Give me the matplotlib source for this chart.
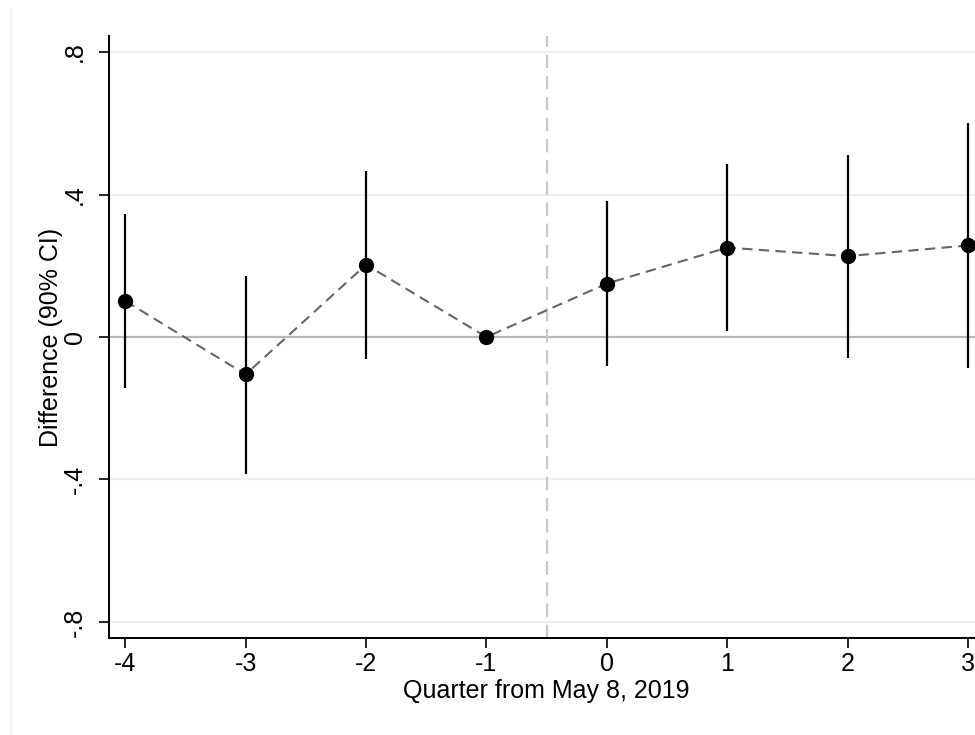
import matplotlib
matplotlib.use("Agg")
import matplotlib.pyplot as plt
from matplotlib.lines import Line2D

quarters = [-4, -3, -2, -1, 0, 1, 2, 3]
estimates = [0.101, -0.105, 0.203, 0.0, 0.150, 0.251, 0.227, 0.257]
ci_low = [-0.142, -0.384, -0.061, 0.0, -0.082, 0.017, -0.058, -0.086]
ci_high = [0.344, 0.171, 0.467, 0.0, 0.383, 0.486, 0.510, 0.601]
yticks = [-0.8, -0.4, 0, 0.4, 0.8]
ytick_labels = ["-.8", "-.4", "0", ".4", ".8"]
xticks = [-4, -3, -2, -1, 0, 1, 2, 3]

plt.rcParams['font.family'] = ['Liberation Sans', 'DejaVu Sans']

fig = plt.figure(figsize=(9.75, 7.35), dpi=100)
ax = fig.add_axes([109/975, 1 - 638/735, 875.3/975, (638-36)/735])

# outer faint frame line
fig.add_artist(Line2D([11/975, 11/975], [0, 1 - 10/735], transform=fig.transFigure,
                      color='#eef2f3', lw=1.2))

# gridlines
for y in [-0.8, -0.4, 0.4, 0.8]:
    ax.axhline(y, color='#eaf0f2', lw=1.6, zorder=0)
ax.axhline(0, color='#b8b8b8', lw=1.6, zorder=1)
ax.axvline(-0.5, color='#c8c8c8', lw=1.6, dashes=(6, 3.5), zorder=1)

# CIs
for q, lo, hi in zip(quarters, ci_low, ci_high):
    if hi != lo:
        ax.plot([q, q], [lo, hi], color='black', lw=1.6, zorder=3, solid_capstyle='butt')

ax.plot(quarters, estimates, color='#666666', lw=1.5, dashes=(5, 3), zorder=2)
ax.plot(quarters, estimates, 'o', color='black', markersize=10, zorder=4)

ax.set_xlim(-4.135, 3.135)
ax.set_ylim(-0.845, 0.845)
ax.set_xticks(xticks)
ax.set_xticklabels([str(x) for x in xticks])
ax.set_yticks(yticks)
ax.set_yticklabels(ytick_labels, rotation=90, va='center')
ax.tick_params(axis='both', labelsize=18, length=7, width=1.2, colors='black')
ax.tick_params(axis='x', pad=3)
ax.tick_params(axis='y', pad=9)

for s in ['top', 'right']:
    ax.spines[s].set_visible(False)
for s in ['left', 'bottom']:
    ax.spines[s].set_linewidth(1.4)

ax.set_xlabel("Quarter from May 8, 2019", fontsize=18, labelpad=2)
ax.set_ylabel("Difference (90% CI)", fontsize=18, labelpad=0)

fig.savefig("out.png", dpi=100)
